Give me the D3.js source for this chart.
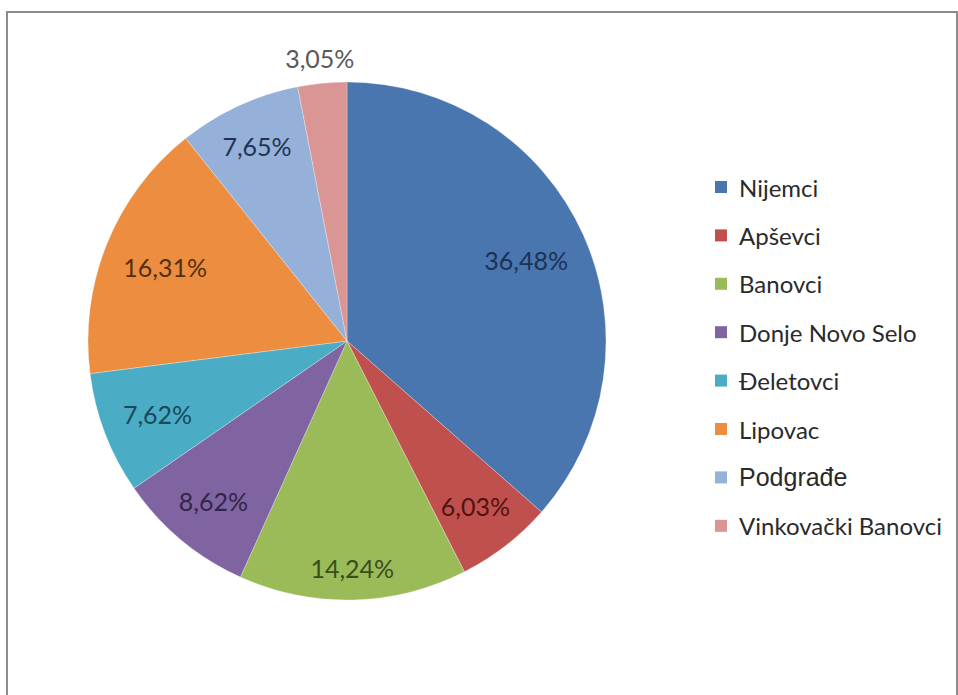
<!DOCTYPE html>
<html>
<head>
<meta charset="utf-8">
<script src="https://cdn.jsdelivr.net/npm/d3@7"></script>
<style>
  html, body { margin: 0; padding: 0; background: #fff; }
  svg { display: block; }
</style>
</head>
<body>
<svg id="chart" width="958" height="695"></svg>
<script>
// Share of population by settlement (percent)
const categories = ["Nijemci", "Apševci", "Banovci", "Donje Novo Selo", "Đeletovci", "Lipovac", "Podgrađe", "Vinkovački Banovci"];
const shares = [36.48, 6.03, 14.24, 8.62, 7.62, 16.31, 7.65, 3.05];
const sliceColors = ["#4a76b0", "#c0504d", "#9bbb59", "#8064a2", "#4bacc6", "#ec8d40", "#95b0d9", "#d99694"];
const labelColors = ["#1b3254", "#501312", "#3a4d1d", "#33254a", "#184a59", "#553010", "#223353", "#595959"];
const outsideSlices = ["Vinkovački Banovci"];

const W = 958, H = 695;
const cx = 347, cy = 341, R = 259;
const fmt = v => v.toFixed(2).replace(".", ",") + "%";

const svg = d3.select("#chart");

// chart frame
svg.append("rect")
  .attr("x", 7).attr("y", 12)
  .attr("width", 950).attr("height", 700)
  .attr("fill", "#fff")
  .attr("stroke", "#8c8c8c").attr("stroke-width", 2);

const data = categories.map((c, i) => ({ name: c, value: shares[i], color: sliceColors[i], labelColor: labelColors[i] }));

const pie = d3.pie().value(d => d.value).sort(null);
const arc = d3.arc().innerRadius(0).outerRadius(R);
const arcs = pie(data);

const g = svg.append("g").attr("transform", `translate(${cx},${cy})`);

g.selectAll("path.slice")
  .data(arcs)
  .join("path")
  .attr("class", "slice")
  .attr("d", arc)
  .attr("fill", d => d.data.color)
  .attr("stroke", "rgba(255,255,255,0.35)")
  .attr("stroke-width", 0.8);

// value labels: inside near the rim, or just outside for thin slices
const labelFont = "Lato, 'Open Sans', sans-serif";
const labelSize = 25;
const labels = g.selectAll("text.val")
  .data(arcs)
  .join("text")
  .attr("class", "val")
  .attr("font-family", labelFont)
  .attr("font-size", labelSize)
  .attr("text-anchor", "middle")
  .attr("dominant-baseline", "central")
  .attr("fill", d => d.data.labelColor)
  .text(d => fmt(d.data.value));

labels.each(function (d) {
  const node = this;
  const w = node.getComputedTextLength();
  const hw = w / 2, hh = labelSize * 0.42;
  const a = (d.startAngle + d.endAngle) / 2;
  const ux = Math.sin(a), uy = -Math.cos(a);
  const extent = hw * Math.abs(ux) + hh * Math.abs(uy);
  let rr;
  if (outsideSlices.includes(d.data.name)) {
    rr = R + 12 + extent;
  } else {
    rr = R - 20 - extent;
  }
  d3.select(node).attr("x", ux * rr).attr("y", uy * rr);
});

// legend
const legend = svg.append("g").attr("transform", "translate(715,187)");
const step = 48.4;
const item = legend.selectAll("g.item")
  .data(data)
  .join("g")
  .attr("class", "item")
  .attr("transform", (d, i) => `translate(0,${i * step})`);

item.append("rect")
  .attr("x", 0).attr("y", -6)
  .attr("width", 12).attr("height", 12)
  .attr("fill", d => d.color);

item.append("text")
  .attr("x", 24).attr("y", 0)
  .attr("dominant-baseline", "central")
  .attr("font-family", d => d.name === "Podgrađe" ? "'Liberation Sans', Arial, sans-serif" : labelFont)
  .attr("font-size", d => d.name === "Podgrađe" ? 25 : 24)
  .attr("fill", "#2a2a2a")
  .text(d => d.name);
</script>
</body>
</html>
